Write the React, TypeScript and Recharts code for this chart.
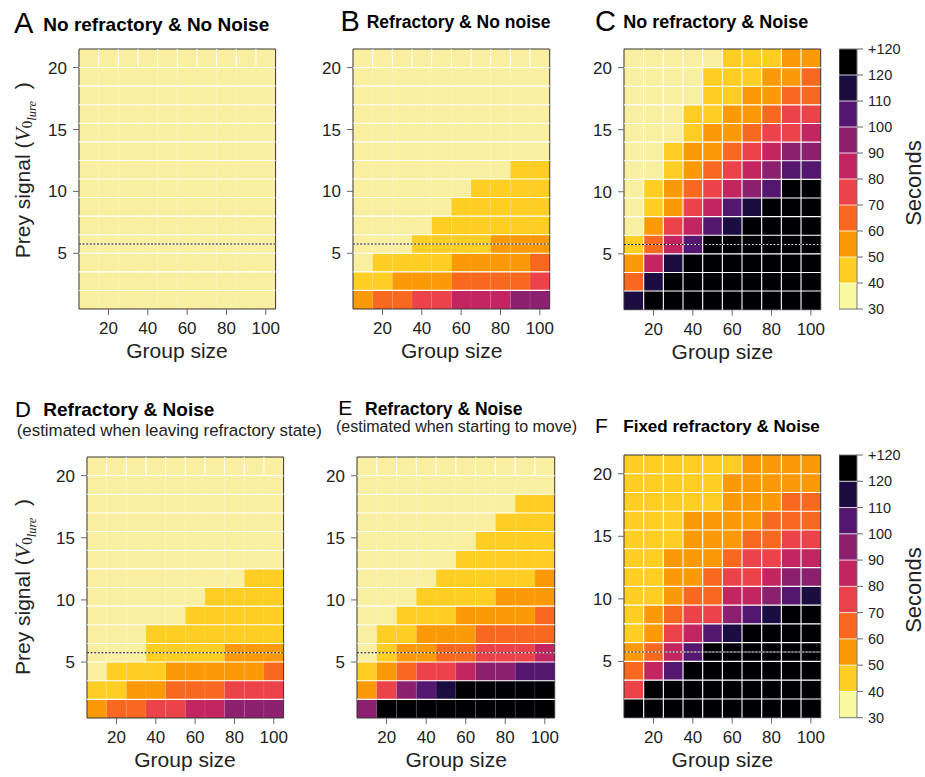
import { ComposedChart, XAxis, YAxis, Scatter, ReferenceArea, ReferenceLine } from "recharts";

const FONT = '"Liberation Sans", Arial, Helvetica, sans-serif';
const MATH = '"Liberation Serif", "DejaVu Serif", serif';
const INK = "#222";

// grid: columns centred on group size, rows spanning prey-signal bands
const groupSizes = [10, 20, 30, 40, 50, 60, 70, 80, 90, 100];
const colWidth = 10;
const signalEdges = [0.5, 2, 3.5, 5, 6.5, 8, 9.5, 11, 12.5, 14, 15.5, 17, 18.5, 20, 21.5];
const xTicks = [20, 40, 60, 80, 100];
const yTicks = [5, 10, 15, 20];
const lureThreshold = 5.75;

// colour scale (seconds)
const binEdges = [30, 40, 50, 60, 70, 80, 90, 100, 110, 120, 130];
const binColors = [
  "#F9EFA1", "#FECE22", "#FB9A06", "#F8691F", "#EC4249",
  "#C2255F", "#8C1F6E", "#54166F", "#1B0C41", "#000004",
];
const colorbarLowest = "#F7FA9E";

// mean time to capture, rows from lowest prey signal upwards
const noRefractoryNoNoise = [
  [35, 35, 35, 35, 35, 35, 35, 35, 35, 35],
  [35, 35, 35, 35, 35, 35, 35, 35, 35, 35],
  [35, 35, 35, 35, 35, 35, 35, 35, 35, 35],
  [35, 35, 35, 35, 35, 35, 35, 35, 35, 35],
  [35, 35, 35, 35, 35, 35, 35, 35, 35, 35],
  [35, 35, 35, 35, 35, 35, 35, 35, 35, 35],
  [35, 35, 35, 35, 35, 35, 35, 35, 35, 35],
  [35, 35, 35, 35, 35, 35, 35, 35, 35, 35],
  [35, 35, 35, 35, 35, 35, 35, 35, 35, 35],
  [35, 35, 35, 35, 35, 35, 35, 35, 35, 35],
  [35, 35, 35, 35, 35, 35, 35, 35, 35, 35],
  [35, 35, 35, 35, 35, 35, 35, 35, 35, 35],
  [35, 35, 35, 35, 35, 35, 35, 35, 35, 35],
  [35, 35, 35, 35, 35, 35, 35, 35, 35, 35],
];

const refractoryNoNoise = [
  [55, 65, 65, 75, 75, 85, 85, 85, 95, 95],
  [45, 45, 55, 55, 55, 65, 65, 65, 65, 75],
  [35, 45, 45, 45, 45, 55, 55, 55, 55, 65],
  [35, 35, 35, 45, 45, 45, 45, 55, 55, 55],
  [35, 35, 35, 35, 45, 45, 45, 45, 45, 45],
  [35, 35, 35, 35, 35, 45, 45, 45, 45, 45],
  [35, 35, 35, 35, 35, 35, 45, 45, 45, 45],
  [35, 35, 35, 35, 35, 35, 35, 35, 45, 45],
  [35, 35, 35, 35, 35, 35, 35, 35, 35, 35],
  [35, 35, 35, 35, 35, 35, 35, 35, 35, 35],
  [35, 35, 35, 35, 35, 35, 35, 35, 35, 35],
  [35, 35, 35, 35, 35, 35, 35, 35, 35, 35],
  [35, 35, 35, 35, 35, 35, 35, 35, 35, 35],
  [35, 35, 35, 35, 35, 35, 35, 35, 35, 35],
];

const noRefractoryNoise = [
  [115, 125, 125, 125, 125, 125, 125, 125, 125, 125],
  [65, 115, 125, 125, 125, 125, 125, 125, 125, 125],
  [55, 85, 115, 125, 125, 125, 125, 125, 125, 125],
  [45, 65, 85, 105, 125, 125, 125, 125, 125, 125],
  [35, 55, 75, 85, 105, 115, 125, 125, 125, 125],
  [35, 45, 55, 75, 85, 105, 115, 125, 125, 125],
  [35, 45, 55, 65, 75, 85, 95, 105, 125, 125],
  [35, 35, 45, 55, 65, 75, 85, 95, 105, 105],
  [35, 35, 45, 55, 55, 65, 75, 85, 95, 95],
  [35, 35, 35, 45, 55, 55, 65, 75, 75, 85],
  [35, 35, 35, 45, 45, 55, 55, 65, 75, 75],
  [35, 35, 35, 35, 45, 45, 55, 55, 65, 65],
  [35, 35, 35, 35, 45, 45, 45, 55, 55, 65],
  [35, 35, 35, 35, 35, 45, 45, 45, 55, 55],
];

const refractoryNoiseLeaving = [
  [55, 65, 65, 75, 75, 85, 85, 95, 95, 95],
  [45, 45, 55, 55, 65, 65, 65, 75, 75, 75],
  [35, 45, 45, 45, 55, 55, 55, 55, 55, 65],
  [35, 35, 35, 45, 45, 45, 45, 55, 55, 55],
  [35, 35, 35, 45, 45, 45, 45, 45, 45, 45],
  [35, 35, 35, 35, 35, 45, 45, 45, 45, 45],
  [35, 35, 35, 35, 35, 35, 45, 45, 45, 45],
  [35, 35, 35, 35, 35, 35, 35, 35, 45, 45],
  [35, 35, 35, 35, 35, 35, 35, 35, 35, 35],
  [35, 35, 35, 35, 35, 35, 35, 35, 35, 35],
  [35, 35, 35, 35, 35, 35, 35, 35, 35, 35],
  [35, 35, 35, 35, 35, 35, 35, 35, 35, 35],
  [35, 35, 35, 35, 35, 35, 35, 35, 35, 35],
  [35, 35, 35, 35, 35, 35, 35, 35, 35, 35],
];

const refractoryNoiseMoving = [
  [95, 125, 125, 125, 125, 125, 125, 125, 125, 125],
  [55, 75, 95, 105, 115, 125, 125, 125, 125, 125],
  [45, 55, 65, 75, 75, 85, 95, 95, 105, 105],
  [35, 45, 55, 55, 65, 65, 75, 75, 75, 85],
  [35, 45, 45, 55, 55, 55, 65, 65, 65, 65],
  [35, 35, 45, 45, 45, 55, 55, 55, 55, 65],
  [35, 35, 35, 45, 45, 45, 45, 55, 55, 55],
  [35, 35, 35, 35, 45, 45, 45, 45, 45, 55],
  [35, 35, 35, 35, 35, 45, 45, 45, 45, 45],
  [35, 35, 35, 35, 35, 35, 45, 45, 45, 45],
  [35, 35, 35, 35, 35, 35, 35, 45, 45, 45],
  [35, 35, 35, 35, 35, 35, 35, 35, 45, 45],
  [35, 35, 35, 35, 35, 35, 35, 35, 35, 35],
  [35, 35, 35, 35, 35, 35, 35, 35, 35, 35],
];

const fixedRefractoryNoise = [
  [125, 125, 125, 125, 125, 125, 125, 125, 125, 125],
  [75, 125, 125, 125, 125, 125, 125, 125, 125, 125],
  [65, 85, 105, 125, 125, 125, 125, 125, 125, 125],
  [55, 65, 85, 105, 125, 125, 125, 125, 125, 125],
  [45, 55, 75, 85, 105, 115, 125, 125, 125, 125],
  [45, 55, 65, 75, 75, 95, 105, 115, 125, 125],
  [45, 45, 55, 65, 65, 85, 85, 95, 105, 115],
  [45, 45, 55, 55, 65, 75, 75, 85, 95, 95],
  [45, 45, 55, 55, 55, 65, 75, 75, 85, 85],
  [45, 45, 45, 55, 55, 55, 65, 65, 75, 75],
  [45, 45, 45, 55, 55, 55, 55, 65, 65, 65],
  [45, 45, 45, 45, 45, 55, 55, 55, 65, 65],
  [45, 45, 45, 45, 45, 55, 55, 55, 55, 55],
  [45, 45, 45, 45, 45, 45, 55, 55, 55, 55],
];

type Box = { left: number; top: number; w: number; h: number };

const Y_W = 60;
const M_T = 6;
const M_R = 6;
const X_H = 44;

function colorFor(v: number) {
  const i = binEdges.findIndex((e, k) => k < binEdges.length - 1 && v >= e && v < binEdges[k + 1]);
  return binColors[i < 0 ? binColors.length - 1 : i];
}

const tickStyle = { fontSize: 17, fill: INK, fontFamily: FONT };
const colBounds = groupSizes.slice(0, -1).map((g) => g + colWidth / 2);

// cell centres; gives the axes something to bind to (the cells themselves are areas)
function cellCentres(values: number[][]) {
  return values.flatMap((row, r) =>
    row.map((v, c) => ({ x: groupSizes[c], y: (signalEdges[r] + signalEdges[r + 1]) / 2, v }))
  );
}

const NoMarker = () => <g />;

function Heatmap({ box, values, fullGrid }: { box: Box; values: number[][]; fullGrid: boolean }) {
  const topRow = signalEdges.length - 2;
  return (
    <div style={{ position: "absolute", left: box.left - Y_W, top: box.top - M_T }}>
      <ComposedChart
        width={Y_W + box.w + M_R}
        height={M_T + box.h + X_H}
        margin={{ top: M_T, right: M_R, bottom: 0, left: 0 }}
        style={{ fontFamily: FONT }}
      >
        <XAxis
          type="number"
          dataKey="x"
          domain={[5, 105]}
          ticks={xTicks}
          interval={0}
          allowDataOverflow
          height={X_H}
          axisLine={false}
          tickSize={6}
          tickMargin={7}
          tickLine={{ stroke: "#666" }}
          tick={tickStyle}
          fontSize={17}
        />
        <YAxis
          type="number"
          dataKey="y"
          domain={[0.5, 21.5]}
          ticks={yTicks}
          interval={0}
          allowDataOverflow
          width={Y_W}
          axisLine={false}
          tickSize={6}
          tickMargin={6}
          tickLine={{ stroke: "#666" }}
          tick={tickStyle}
          fontSize={17}
        />
        <Scatter data={cellCentres(values)} dataKey="y" shape={NoMarker} isAnimationActive={false} />
        {values.map((row, r) =>
          row.map((v, c) => (
            <ReferenceArea
              key={`c-${r}-${c}`}
              x1={groupSizes[c] - colWidth / 2}
              x2={groupSizes[c] + colWidth / 2}
              y1={signalEdges[r]}
              y2={signalEdges[r + 1]}
              fill={colorFor(v)}
              fillOpacity={1}
              stroke="none"
              ifOverflow="visible"
            />
          ))
        )}
        {signalEdges.slice(1, -1).map((e) => (
          <ReferenceLine key={`h-${e}`} y={e} stroke="#fff" strokeWidth={1.1} />
        ))}
        {colBounds.map((x) =>
          fullGrid ? (
            <ReferenceLine key={`v-${x}`} x={x} stroke="#fff" strokeWidth={1.1} />
          ) : (
            <ReferenceLine key={`v-${x}`} x={x} stroke="#fff" strokeOpacity={0.1} strokeWidth={1} />
          )
        )}
        {!fullGrid &&
          colBounds.map((x) => (
            <ReferenceLine
              key={`t-${x}`}
              segment={[
                { x, y: signalEdges[topRow] },
                { x, y: signalEdges[topRow + 1] },
              ]}
              stroke="#fff"
              strokeWidth={1.1}
            />
          ))}
        <ReferenceLine y={lureThreshold} stroke="#fff" strokeWidth={1.2} />
        <ReferenceLine y={lureThreshold} stroke="#111" strokeWidth={1.2} strokeDasharray="2 1.6" />
        <ReferenceArea
          x1={5}
          x2={105}
          y1={0.5}
          y2={21.5}
          fill="none"
          stroke="#333"
          strokeWidth={1}
          ifOverflow="visible"
        />
      </ComposedChart>
    </div>
  );
}

const CB_W = 18;
const CB_R = 60;
const CB_PAD = 14;
const binMids = binEdges.slice(0, -1).map((e, i) => ({ x: 0.5, y: (e + binEdges[i + 1]) / 2 }));

function Colorbar({ box }: { box: Box }) {
  return (
    <div style={{ position: "absolute", left: box.left, top: box.top - CB_PAD }}>
      <ComposedChart
        width={CB_W + CB_R}
        height={CB_PAD + box.h + CB_PAD}
        margin={{ top: CB_PAD, right: 0, bottom: CB_PAD, left: 0 }}
        style={{ fontFamily: FONT }}
      >
        <XAxis type="number" dataKey="x" domain={[0, 1]} hide />
        <YAxis
          type="number"
          dataKey="y"
          orientation="right"
          domain={[30, 130]}
          ticks={binEdges}
          interval={0}
          width={CB_R}
          axisLine={false}
          tickSize={6}
          tickMargin={5}
          tickLine={{ stroke: "#666" }}
          tick={{ fontSize: 14.5, fill: INK, fontFamily: FONT }}
          fontSize={14.5}
          tickFormatter={(v: number) => (v === 130 ? "+120" : String(v))}
        />
        <Scatter data={binMids} dataKey="y" shape={NoMarker} isAnimationActive={false} />
        {binEdges.slice(0, -1).map((e, i) => (
          <ReferenceArea
            key={`b-${e}`}
            x1={0}
            x2={1}
            y1={e}
            y2={binEdges[i + 1]}
            fill={i === 0 ? colorbarLowest : binColors[i]}
            fillOpacity={1}
            stroke="none"
            ifOverflow="visible"
          />
        ))}
        {binEdges.slice(1, -1).map((e) => (
          <ReferenceLine key={`s-${e}`} y={e} stroke="#fff" strokeWidth={0.8} />
        ))}
        <ReferenceArea x1={0} x2={1} y1={30} y2={130} fill="none" stroke="#777" strokeWidth={1} ifOverflow="visible" />
      </ComposedChart>
    </div>
  );
}

const panels: { box: Box; values: number[][]; fullGrid: boolean }[] = [
  { box: { left: 78.7, top: 49.3, w: 196.6, h: 260 }, values: noRefractoryNoNoise, fullGrid: false },
  { box: { left: 353.3, top: 49.3, w: 196.7, h: 260 }, values: refractoryNoNoise, fullGrid: false },
  { box: { left: 624, top: 49.3, w: 196.7, h: 260.7 }, values: noRefractoryNoise, fullGrid: true },
  { box: { left: 86.7, top: 456.7, w: 196.6, h: 261 }, values: refractoryNoiseLeaving, fullGrid: false },
  { box: { left: 357.3, top: 456.7, w: 197.7, h: 261 }, values: refractoryNoiseMoving, fullGrid: false },
  { box: { left: 624, top: 455, w: 196.7, h: 262.7 }, values: fixedRefractoryNoise, fullGrid: true },
];

const headings = [
  { letter: "A", lx: 14, ly: 32.7, ls: 29, title: "No refractory & No Noise", tx: 43.3, ty: 31, ts: 19 },
  { letter: "B", lx: 340.5, ly: 30.7, ls: 29, title: "Refractory & No noise", tx: 366.7, ty: 27.5, ts: 17.5 },
  { letter: "C", lx: 595, ly: 31, ls: 29, title: "No refractory & Noise", tx: 623.3, ty: 27.5, ts: 18 },
  { letter: "D", lx: 15, ly: 416.7, ls: 22, title: "Refractory & Noise", tx: 43.3, ty: 415.7, ts: 19 },
  { letter: "E", lx: 338.3, ly: 414.5, ls: 21, title: "Refractory & Noise", tx: 365, ty: 414.5, ts: 17.5 },
  { letter: "F", lx: 595, ly: 433.3, ls: 21, title: "Fixed refractory & Noise", tx: 623.3, ty: 432, ts: 17 },
];

const subtitles = [
  { text: "(estimated when leaving refractory state)", x: 16.7, y: 436, s: 16.9 },
  { text: "(estimated when starting to move)", x: 336, y: 432, s: 16 },
];

function PreyLabel({ x, y }: { x: number; y: number }) {
  return (
    <text transform={`translate(${x},${y}) rotate(-90)`} fontFamily={FONT} fontSize={21} fill={INK}>
      {"Prey signal ("}
      <tspan fontFamily={MATH} fontStyle="italic" fontSize={22}>V</tspan>
      <tspan fontFamily={MATH} fontSize={15} dy={2}>0</tspan>
      <tspan fontFamily={MATH} fontStyle="italic" fontSize={12.5} dy={4}>lure</tspan>
      <tspan dy={-6}>{"\u00a0\u00a0)"}</tspan>
    </text>
  );
}

export default function App() {
  return (
    <div style={{ position: "absolute", left: 0, top: 0, width: 925, height: 777, background: "#fff" }}>
      {panels.map((p, i) => (
        <Heatmap key={i} box={p.box} values={p.values} fullGrid={p.fullGrid} />
      ))}
      <Colorbar box={{ left: 839.3, top: 49.3, w: 18, h: 260 }} />
      <Colorbar box={{ left: 839.3, top: 455, w: 18, h: 262.7 }} />
      <svg
        width={925}
        height={777}
        style={{ position: "absolute", left: 0, top: 0, pointerEvents: "none" }}
        fontFamily={FONT}
      >
        {headings.map((h) => (
          <g key={h.letter}>
            <text x={h.lx} y={h.ly} fontSize={h.ls} fill="#000">
              {h.letter}
            </text>
            <text x={h.tx} y={h.ty} fontSize={h.ts} fontWeight="bold" fill="#000">
              {h.title}
            </text>
          </g>
        ))}
        {subtitles.map((s) => (
          <text key={s.text} x={s.x} y={s.y} fontSize={s.s} fill={INK}>
            {s.text}
          </text>
        ))}
        {panels.map((p, i) => (
          <text
            key={`gx-${i}`}
            x={p.box.left + p.box.w / 2}
            y={p.box.top + p.box.h + 49}
            fontSize={21}
            textAnchor="middle"
            fill={INK}
          >
            Group size
          </text>
        ))}
        <PreyLabel x={29.5} y={258.3} />
        <PreyLabel x={29.5} y={675} />
        <text transform="translate(921,183) rotate(-90)" fontSize={22} textAnchor="middle" fill={INK}>
          Seconds
        </text>
        <text transform="translate(921,590) rotate(-90)" fontSize={22} textAnchor="middle" fill={INK}>
          Seconds
        </text>
      </svg>
    </div>
  );
}
